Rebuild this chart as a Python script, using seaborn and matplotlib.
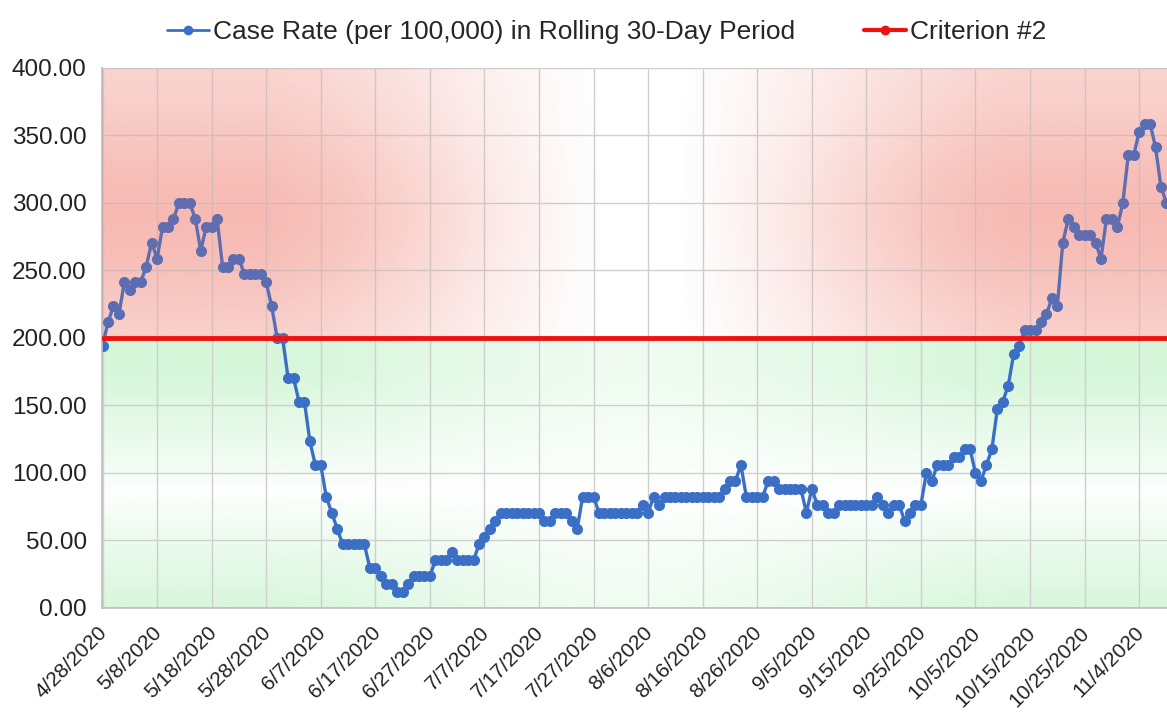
import numpy as np
import pandas as pd
import matplotlib
matplotlib.use("Agg")
import matplotlib.pyplot as plt
import matplotlib.dates as mdates
import matplotlib.transforms as mtransforms
from matplotlib.lines import Line2D
import seaborn as sns

# daily case rate per 100,000 (rolling 30 days), starting 4/28/2020
case_rate = [
    194.1, 211.7, 223.5, 217.6, 241.2, 235.3, 241.2, 241.2, 252.9, 270.6,
    258.8, 282.4, 282.4, 288.2, 300.0, 300.0, 300.0, 288.2, 264.7, 282.4,
    282.4, 288.2, 252.9, 252.9, 258.8, 258.8, 247.1, 247.1, 247.1, 247.1,
    241.2, 223.5, 200.0, 200.0, 170.6, 170.6, 152.9, 152.9, 123.5, 105.9,
    105.9, 82.4, 70.6, 58.8, 47.1, 47.1, 47.1, 47.1, 47.1, 29.4,
    29.4, 23.5, 17.6, 17.6, 11.8, 11.8, 17.6, 23.5, 23.5, 23.5,
    23.5, 35.3, 35.3, 35.3, 41.2, 35.3, 35.3, 35.3, 35.3, 47.1,
    52.9, 58.8, 64.7, 70.6, 70.6, 70.6, 70.6, 70.6, 70.6, 70.6,
    70.6, 64.7, 64.7, 70.6, 70.6, 70.6, 64.7, 58.8, 82.4, 82.4,
    82.4, 70.6, 70.6, 70.6, 70.6, 70.6, 70.6, 70.6, 70.6, 76.5,
    70.6, 82.4, 76.5, 82.4, 82.4, 82.4, 82.4, 82.4, 82.4, 82.4,
    82.4, 82.4, 82.4, 82.4, 88.2, 94.1, 94.1, 105.9, 82.4, 82.4,
    82.4, 82.4, 94.1, 94.1, 88.2, 88.2, 88.2, 88.2, 88.2, 70.6,
    88.2, 76.5, 76.5, 70.6, 70.6, 76.5, 76.5, 76.5, 76.5, 76.5,
    76.5, 76.5, 82.4, 76.5, 70.6, 76.5, 76.5, 64.7, 70.6, 76.5,
    76.5, 100.0, 94.1, 105.9, 105.9, 105.9, 111.8, 111.8, 117.6, 117.6,
    100.0, 94.1, 105.9, 117.6, 147.1, 152.9, 164.7, 188.2, 194.1, 205.9,
    205.9, 205.9, 211.7, 217.6, 229.4, 223.5, 270.6, 288.2, 282.4, 276.5,
    276.5, 276.5, 270.6, 258.8, 288.2, 288.2, 282.4, 300.0, 335.3, 335.3,
    352.9, 358.8, 358.8, 341.2, 311.8, 300.0,
]
criterion = 200.0
start_date = "2020-04-28"

tick_labels = [
    "4/28/2020", "5/8/2020", "5/18/2020", "5/28/2020", "6/7/2020",
    "6/17/2020", "6/27/2020", "7/7/2020", "7/17/2020", "7/27/2020",
    "8/6/2020", "8/16/2020", "8/26/2020", "9/5/2020", "9/15/2020",
    "9/25/2020", "10/5/2020", "10/15/2020", "10/25/2020", "11/4/2020",
]
y_ticks = [0, 50, 100, 150, 200, 250, 300, 350, 400]

line_label = "Case Rate (per 100,000) in Rolling 30-Day Period"
crit_label = "Criterion #2"

dates = pd.date_range(start_date, periods=len(case_rate), freq="D")
df = pd.DataFrame({"Date": dates, "Case Rate": case_rate})
df_crit = pd.DataFrame({"Date": dates, "Criterion": [criterion] * len(dates)})

sns.set_style("white")
plt.rcParams["font.family"] = ["Liberation Sans", "DejaVu Sans"]

fig = plt.figure(figsize=(11.67, 7.15), dpi=100)
ax = fig.add_axes([0.0874, 0.1497, 0.9126, 0.7552])
ax.set_axisbelow(True)

blue = "#3b6fc6"
red = "#ee1111"

sns.lineplot(data=df, x="Date", y="Case Rate", ax=ax, color=blue, marker="o",
             markersize=8, markeredgewidth=0, linewidth=2.4, zorder=2)
sns.lineplot(data=df_crit, x="Date", y="Criterion", ax=ax, color=red,
             linewidth=3.5, zorder=4)

x0 = mdates.date2num(dates[0]) - 0.1
x1 = mdates.date2num(dates[-1]) + 0.1
ax.set_xlim(x0, x1)
ax.set_ylim(0, 400)

# shaded zones (red above the criterion, green below)
xs = np.linspace(0, 1, 500)
d = np.abs(xs - 0.505)
hx = np.clip((d - 0.03) / 0.32, 0, 1)
hx = 0.5 * hx + 0.5 * hx * hx * (3 - 2 * hx)

vr = np.linspace(200, 400, 150)
vy = 0.55 + 0.45 * np.exp(-((vr - 290) / 75) ** 2)
shape_r = vy[:, None] * hx[None, :]

under = np.zeros((150, 500, 4))
under[..., :3] = (238 / 255, 105 / 255, 90 / 255)
under[..., 3] = 0.3 * shape_r
ax.imshow(under, extent=[x0, x1, 200, 400], origin="lower", aspect="auto",
          zorder=0.2, interpolation="bilinear")
over = under.copy()
over[..., 3] = 0.22 * shape_r
ax.imshow(over, extent=[x0, x1, 200, 400], origin="lower", aspect="auto",
          zorder=3, interpolation="bilinear")

vg = np.linspace(0, 200, 150)
vyg = np.clip(np.abs(vg - 85) / 90, 0, 1) ** 0.8
shape_g = vyg[:, None] * (0.4 + 0.6 * hx[None, :])
green = np.zeros((150, 500, 4))
green[..., :3] = (110 / 255, 225 / 255, 125 / 255)
green[..., 3] = 0.28 * shape_g
ax.imshow(green, extent=[x0, x1, 0, 200], origin="lower", aspect="auto",
          zorder=0.2, interpolation="bilinear")

ax.set_xticks(dates[::10], labels=tick_labels)
ax.set_yticks(y_ticks, labels=[f"{v:.2f}" for v in y_ticks])
ax.tick_params(axis="x", length=0, pad=10, labelsize=15, labelcolor="#222222")
ax.tick_params(axis="y", length=0, pad=11, labelsize=17.5, labelcolor="#222222")
shift = mtransforms.ScaledTranslation(2 / 100, -8 / 100, fig.dpi_scale_trans)
for lbl in ax.get_xticklabels():
    lbl.set_rotation(45)
    lbl.set_ha("right")
    lbl.set_va("center")
    lbl.set_rotation_mode("anchor")
    lbl.set_transform(lbl.get_transform() + shift)

ax.grid(True, color="#cfcfcf", linewidth=1.0)
ax.set_xlabel("")
ax.set_ylabel("")
for side in ["top", "right"]:
    ax.spines[side].set_visible(False)
for side in ["left", "bottom"]:
    ax.spines[side].set_color("#bdbdbd")
    ax.spines[side].set_linewidth(1.2)
ax.set_aspect("auto")

handles = [
    Line2D([], [], color=blue, marker="o", markersize=6, linewidth=2.0),
    Line2D([], [], color=red, marker="o", markersize=6, linewidth=3.0),
]
fig.legend(handles, [line_label, crit_label], loc="upper center",
           bbox_to_anchor=(0.52, 1.005), ncol=2, frameon=False, fontsize=19,
           handlelength=1.6, handletextpad=0.15, columnspacing=2.6)

fig.savefig("out.png", dpi=100)
